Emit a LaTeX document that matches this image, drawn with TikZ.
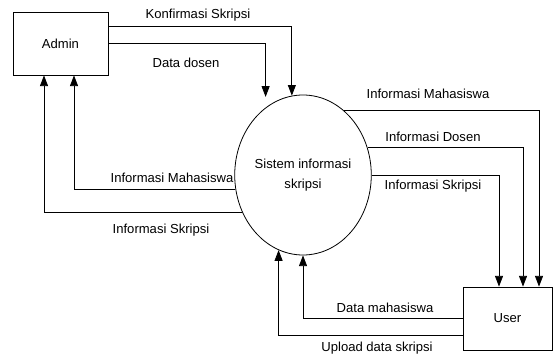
\documentclass[tikz,border=0pt]{standalone}
\usepackage{fontspec}
\setmainfont{Liberation Sans}
\usetikzlibrary{calc,arrows.meta,shapes.geometric}

\begin{document}
\begin{tikzpicture}[
  x={(0.75pt,0pt)}, y={(0pt,-0.75pt)},
  line cap=butt, line join=miter,
  >={Triangle[length=8pt,width=6pt]},
  font=\fontsize{9.8}{11.5}\selectfont,
  box/.style={draw, line width=0.6pt, rectangle, inner sep=0pt},
  proses/.style={draw, line width=0.6pt, ellipse, inner sep=0pt,
    minimum width=90pt, minimum height=120pt, align=center,
    font=\fontsize{9.8}{15}\selectfont},
  flow/.style={->, line width=0.6pt},
  lbl/.style={inner sep=0pt}
]
\useasboundingbox (0,0) rectangle (553,356);

% entitas dan proses
\node[box, minimum width=71.25pt, minimum height=47.25pt] (admin) at (60.5,43.5) {Admin};
\node[box, minimum width=66.75pt, minimum height=47.25pt] (user) at (507.5,318.5) {User};
\node[proses] (sistem) at (303,175) {Sistem informasi\\skripsi};

% Admin -> sistem
\draw[flow] ($(admin.east)+(0,-17.5)$) -| (sistem.98.7);
\draw[flow, shorten >=8pt] (admin.east) -| (sistem.119.4);
\node[lbl] (lblKonfirmasi) at (198,15) {Konfirmasi Skripsi};
\node[lbl] (lblDosen) at (186,63) {Data dosen};

% sistem -> Admin
\draw[flow] (sistem.192.4) -| ($(admin.south)+(13.5,0)$);
\draw[flow] (sistem.212) -| ($(admin.south)+(-16.5,0)$);
\node[lbl] (lblAdmMhs) at (172,178) {Informasi Mahasiswa};
\node[lbl] (lblAdmSkr) at (161,230) {Informasi Skripsi};

% sistem -> User
\draw[flow] (sistem.58.6) -| ($(user.north)+(31.5,0)$);
\draw[flow] (sistem.23.7) -| ($(user.north)+(15.5,0)$);
\draw[flow] (sistem.east) -| ($(user.north)+(-8.5,0)$);
\node[lbl] (lblUsrMhs) at (428,94) {Informasi Mahasiswa};
\node[lbl] (lblUsrDsn) at (433,137) {Informasi Dosen};
\node[lbl] (lblUsrSkr) at (433,186) {Informasi Skripsi};

% User -> sistem
\draw[flow] (user.west) -| (sistem.south);
\draw[flow] ($(user.west)+(0,16.5)$) -| (sistem.252.7);
\node[lbl] (lblDataMhs) at (385,308) {Data mahasiswa};
\node[lbl] (lblUpload) at (377,348) {Upload data skripsi};
\end{tikzpicture}
\end{document}
